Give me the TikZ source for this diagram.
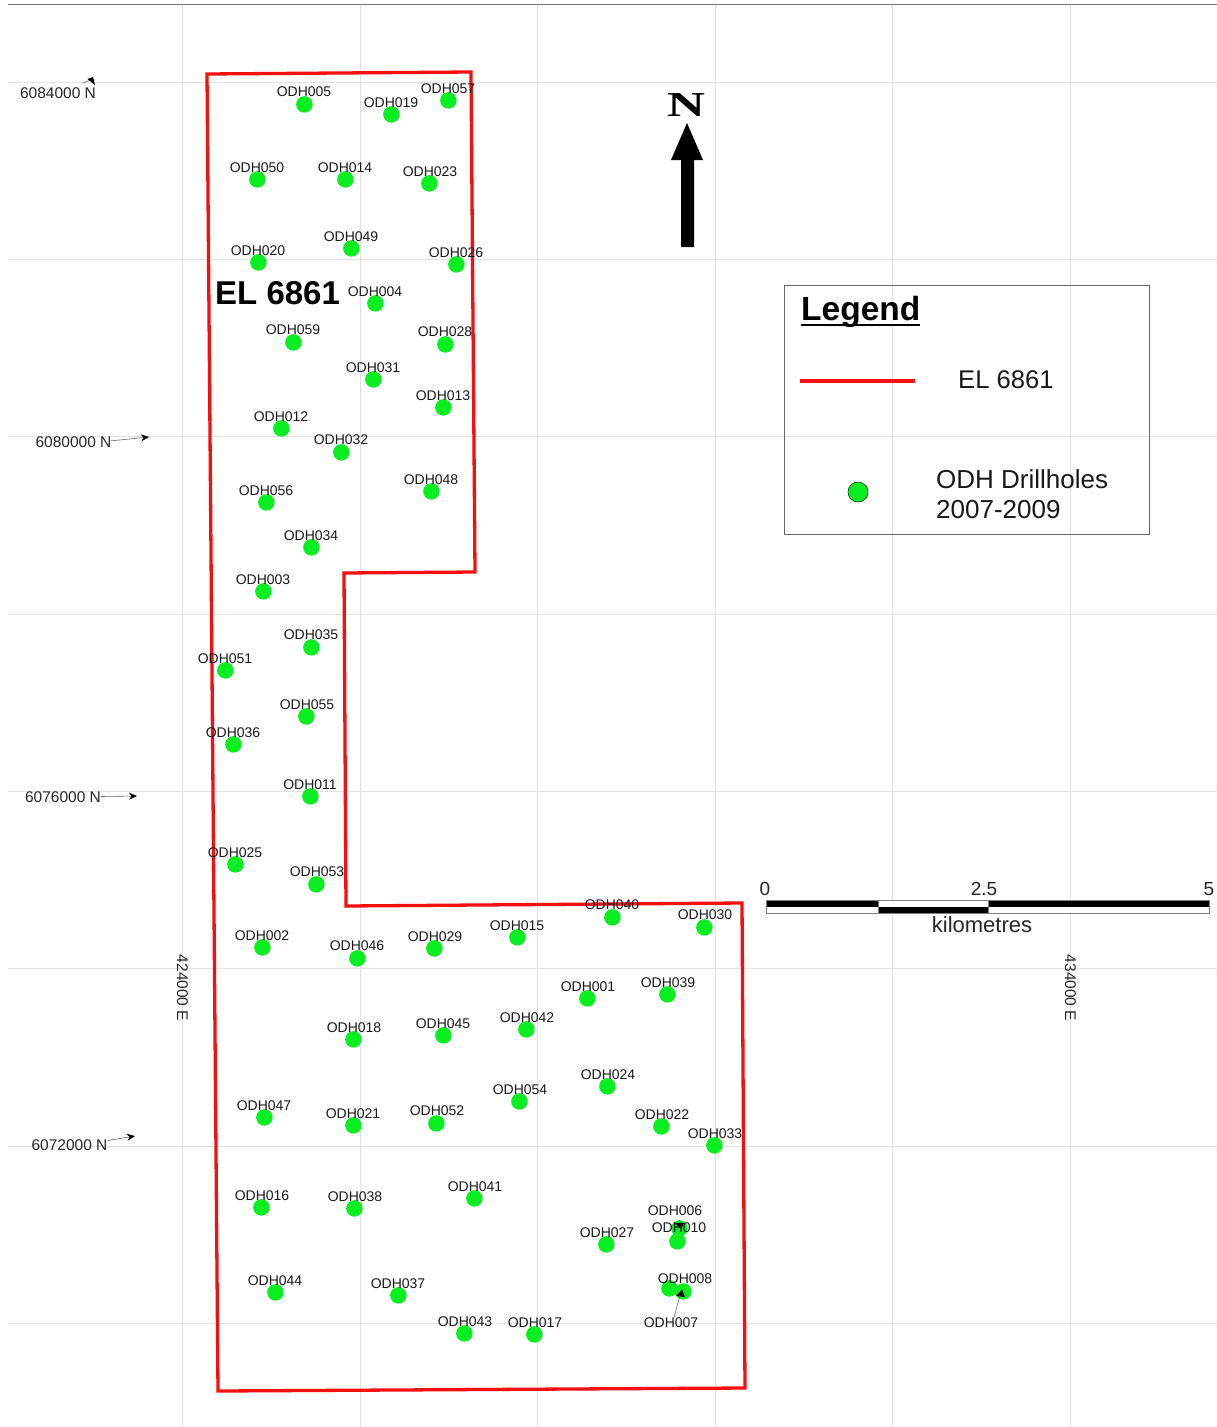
\documentclass[tikz,border=0pt]{standalone}
\usepackage{fontspec}
\setmainfont{Liberation Sans}
\newfontfamily\serifnorth{Liberation Serif}
\usetikzlibrary{arrows.meta}
\definecolor{gridc}{HTML}{E2E2E2}
\definecolor{holec}{HTML}{08EE20}
\definecolor{elred}{HTML}{F50F0F}
\tikzset{
  gridline/.style={gridc,line width=0.9pt},
  holedot/.style={circle,fill=holec,minimum size=16.5pt,inner sep=0pt,draw=none,xshift=0.4pt,yshift=-0.4pt},
  holelab/.style={inner sep=0pt,font=\fontsize{14}{14}\selectfont,text=black!90,yshift=-0.8pt},
  coordlab/.style={inner sep=0pt,font=\fontsize{15.5}{16}\selectfont,text=black!85},
  scalelab/.style={inner sep=0pt,font=\fontsize{19}{20}\selectfont,text=black!85},
  leader/.style={black!60,line width=0.6pt,-{Stealth[black,length=8pt,width=7pt]}},
  elline/.style={elred,line width=3.3pt},
}
\begin{document}
\begin{tikzpicture}[x=1pt,y=-1pt]
\useasboundingbox (0,0) rectangle (1217,1427);
\fill[white] (0,0) rectangle (1217,1427);
% grid
\foreach \gx in {182.6,360.6,537.6,715.6,892.6,1070.6}{\draw[gridline] (\gx,4) -- (\gx,1427);}
\foreach \gy in {82,259,436,614,791,968,1146,1323}{\draw[gridline] (8,\gy) -- (1217,\gy);}
\draw[black!55,line width=1pt] (8,4) -- (1217,4);
% tenement
\draw[elline,line join=miter] (207,74) -- (471,72) -- (475,572) -- (344,573) -- (346,906) -- (742,903) -- (745,1388) -- (218,1391) -- cycle;
% drillholes
\foreach \n/\dx/\dy/\lx/\ly in {
005/304/104/304/91,019/391/114/391/102,057/448/100/448/88,050/257/179/257/167,
014/345/179/345/167,023/429/183/430/171,020/258/262/258/250,049/351/248/351/236,
026/456/264/456/252,004/375/303/375/291,059/293/342/293/329,028/445/344/445/331,
031/373/379/373/367,013/443/407/443/395,012/281/428/281/416,032/341/452/341/439,
048/431/491/431/479,056/266/502/266/490,034/311/547/311/535,003/263/591/263/579,
035/311/647/311/634,051/225/670/225/658,055/306/716/307/704,036/233/744/233/732,
011/310/796/310/784,025/235/864/235/852,053/316/884/317/871,040/612/917/612/904,
030/704/927/705/914,015/517/937/517/925,029/434/948/435/936,002/262/947/262/935,
046/357/958/357/945,001/587/998/588/986,039/667/994/668/982,042/526/1029/527/1017,
045/443/1035/443/1023,018/353/1039/354/1027,024/607/1086/608/1074,054/519/1101/520/1089,
022/661/1126/662/1114,052/436/1123/437/1110,021/353/1125/353/1113,047/264/1117/264/1105,
033/714/1145/715/1133,016/261/1207/262/1195,038/354/1208/355/1196,041/474/1198/475/1186,
027/606/1244/607/1232,006/679/1228/675/1210,010/677/1241/679/1227,044/275/1292/275/1280,
037/398/1295/398/1283,008/669/1288/685/1278,007/683/1291/671/1322,043/464/1333/465/1321,
017/534/1334/535/1322}{
  \node[holedot] (dot\n) at (\dx,\dy) {};
}
% leaders
\coordinate (tip007) at (680,1295);
\fill[black] (676,1296) -- (682,1289.5) -- (685,1297) -- cycle;
\fill[black] (675,1223) -- (684,1223) -- (681,1229) -- cycle;
\foreach \n/\dx/\dy/\lx/\ly in {
005/304/104/304/91,019/391/114/391/102,057/448/100/448/88,050/257/179/257/167,
014/345/179/345/167,023/429/183/430/171,020/258/262/258/250,049/351/248/351/236,
026/456/264/456/252,004/375/303/375/291,059/293/342/293/329,028/445/344/445/331,
031/373/379/373/367,013/443/407/443/395,012/281/428/281/416,032/341/452/341/439,
048/431/491/431/479,056/266/502/266/490,034/311/547/311/535,003/263/591/263/579,
035/311/647/311/634,051/225/670/225/658,055/306/716/307/704,036/233/744/233/732,
011/310/796/310/784,025/235/864/235/852,053/316/884/317/871,040/612/917/612/904,
030/704/927/705/914,015/517/937/517/925,029/434/948/435/936,002/262/947/262/935,
046/357/958/357/945,001/587/998/588/986,039/667/994/668/982,042/526/1029/527/1017,
045/443/1035/443/1023,018/353/1039/354/1027,024/607/1086/608/1074,054/519/1101/520/1089,
022/661/1126/662/1114,052/436/1123/437/1110,021/353/1125/353/1113,047/264/1117/264/1105,
033/714/1145/715/1133,016/261/1207/262/1195,038/354/1208/355/1196,041/474/1198/475/1186,
027/606/1244/607/1232,006/679/1228/675/1210,010/677/1241/679/1227,044/275/1292/275/1280,
037/398/1295/398/1283,008/669/1288/685/1278,007/683/1291/671/1322,043/464/1333/465/1321,
017/534/1334/535/1322}{
  \node[holelab] (lab\n) at (\lx,\ly) {ODH\n};
}
\draw[black!60,line width=0.6pt] (lab007.north) ++(3,0) -- (tip007);
% tenement label
\node[inner sep=0pt,anchor=west,font=\fontsize{33}{33}\selectfont\bfseries] (elname) at (215,293) {EL 6861};
% coordinate labels
\node[coordlab] (n1) at (58,93) {6084000 N};
\node[coordlab] (n2) at (73.5,442) {6080000 N};
\node[coordlab] (n3) at (63,797.5) {6076000 N};
\node[coordlab] (n4) at (69.5,1145.5) {6072000 N};
\node[coordlab,rotate=-90] (e1) at (182.5,988) {424000 E};
\node[coordlab,rotate=-90] (e2) at (1070.5,988) {434000 E};
\coordinate (a2) at (149,437);
\coordinate (a3) at (137,796);
\coordinate (a4) at (135,1136);
\coordinate (s1) at (83,83);
\draw[black!60,line width=0.6pt] (s1) -- (92,79.5);
\fill[black] (95,85) -- (87.5,79) -- (93,77) -- cycle;
\draw[leader] (n2.east) ++(-2,-1) -- (a2);
\draw[leader] (n3.east) ++(0,-1) -- (a3);
\draw[leader] (n4.east) ++(0,-5) -- (a4);
% north arrow
\node[inner sep=0pt,font=\serifnorth\bfseries\fontsize{35}{35}\selectfont,xscale=1.5,yscale=1] (northn) at (686,105.5) {N};
\fill[black] (687,123) -- (703,160) -- (694,160) -- (694,247) -- (681,247) -- (681,160) -- (671,160) -- cycle;
% legend
\draw[black!60,line width=0.7pt] (784,285) rectangle (1149,534);
\node[inner sep=0pt,anchor=west,font=\fontsize{33.5}{33}\selectfont\bfseries] (legt) at (801,312) {Legend};
\draw[black,line width=2pt] (801,325) -- (920,325);
\coordinate (lg1) at (800,381);
\coordinate (lg2) at (915,381);
\draw[elred,line width=3.3pt] (lg1) -- (lg2);
\node[inner sep=0pt,anchor=west,font=\fontsize{25.6}{26}\selectfont,text=black!90] (legel) at (958,379.5) {EL 6861};
\node[holedot,draw=black!75!green,line width=0.6pt,minimum size=20pt,xshift=-0.4pt,yshift=0.4pt] (legdot) at (858,492) {};
\node[inner sep=0pt,anchor=west,font=\fontsize{26}{30}\selectfont,text=black!90,align=left] (legodh) at (936,494) {ODH Drillholes\\2007-2009};
% scale bar
\fill[black] (766,900) rectangle (878,907);
\fill[white] (766,907) rectangle (878,913);
\fill[white] (878,900) rectangle (988,907);
\fill[black] (878,907) rectangle (988,913);
\fill[black] (988,900) rectangle (1209,907);
\fill[white] (988,907) rectangle (1209,913);
\draw[black!50,line width=0.6pt] (766,900) rectangle (1209,913);
\draw[black!50,line width=0.6pt] (878,900) -- (878,913) (988,900) -- (988,913);
\node[scalelab] (s0) at (765,889) {0};
\node[scalelab] (s25) at (984,889) {2.5};
\node[scalelab] (s5) at (1209,889) {5};
\node[inner sep=0pt,font=\fontsize{22}{22}\selectfont,text=black!85] (skm) at (982,925) {kilometres};
\end{tikzpicture}
\end{document}
